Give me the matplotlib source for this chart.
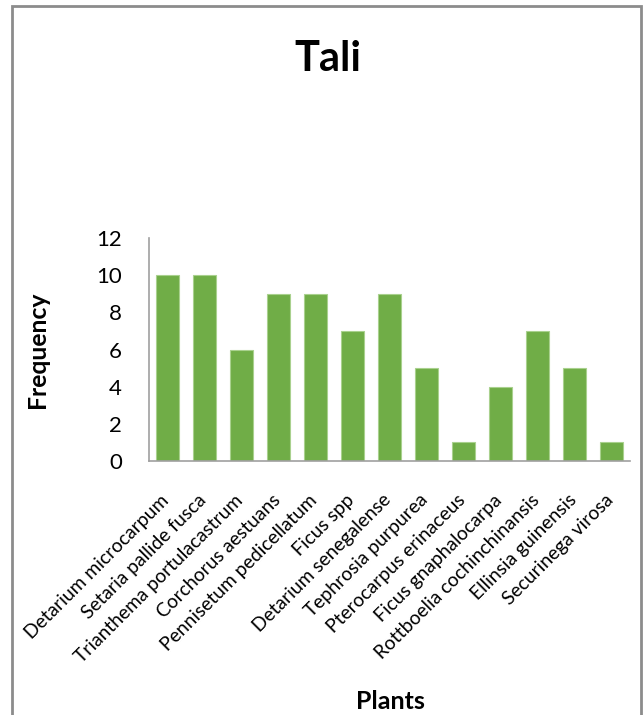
import matplotlib
matplotlib.use("Agg")
import matplotlib.pyplot as plt
from matplotlib.patches import Rectangle
from matplotlib.transforms import ScaledTranslation

plants = [
    "Detarium microcarpum", "Setaria pallide fusca", "Trianthema portulacastrum",
    "Corchorus aestuans", "Pennisetum pedicellatum", "Ficus spp",
    "Detarium senegalense", "Tephrosia purpurea", "Pterocarpus erinaceus",
    "Ficus gnaphalocarpa", "Rottboelia cochinchinansis", "Ellinsia guinensis",
    "Securinega virosa",
]
frequency = [10, 10, 6, 9, 9, 7, 9, 5, 1, 4, 7, 5, 1]
yticks = [0, 2, 4, 6, 8, 10, 12]

plt.rcParams['font.family'] = ['Lato', 'DejaVu Sans']

fig = plt.figure(figsize=(6.44, 7.15), dpi=100)
fig.patch.set_facecolor('white')

# outer chart frame
fig.patches.append(Rectangle((12 / 644, -0.05), (641 - 12) / 644, 1.05 - 6 / 715,
                             transform=fig.transFigure, fill=False,
                             edgecolor='#8c8c8c', linewidth=2))

ax = fig.add_axes([149 / 644, 1 - 461 / 715, 481 / 644, 223 / 715])
x = list(range(len(plants)))
ax.bar(x, frequency, width=0.62, color='#70AD47', edgecolor='#a9d18e', linewidth=0.8)

ax.set_xlim(-0.5, len(plants) - 0.5)
ax.set_ylim(0, 12)
ax.set_yticks(yticks)
ax.set_yticklabels([str(v) for v in yticks], fontsize=16)
ax.set_xticks(x)
ax.set_xticklabels(plants, rotation=45, ha='right', va='top',
                   rotation_mode='anchor', fontsize=13.9)
ax.tick_params(axis='x', length=0, pad=6)
ax.tick_params(axis='y', length=0, pad=19.5)

# nudge the slanted category labels
shift = ScaledTranslation(-7 / 100, -22 / 100, fig.dpi_scale_trans)
for lbl in ax.get_xticklabels():
    lbl.set_transform(lbl.get_transform() + shift)

for side in ('top', 'right'):
    ax.spines[side].set_visible(False)
for side in ('left', 'bottom'):
    ax.spines[side].set_color('#a0a0a0')
    ax.spines[side].set_linewidth(1.2)

ax.set_ylabel('Frequency', fontsize=17.8, fontweight='bold')
ax.yaxis.set_label_coords(-0.208, 0.5)
ax.set_xlabel('Plants', fontsize=18, fontweight='bold', va='center')
ax.xaxis.set_label_coords(0.501, -1.08)

fig.text(328 / 644, 1 - 59 / 715, 'Tali', fontsize=30, fontweight='bold',
         ha='center', va='center')

fig.savefig('out.png', dpi=100)
